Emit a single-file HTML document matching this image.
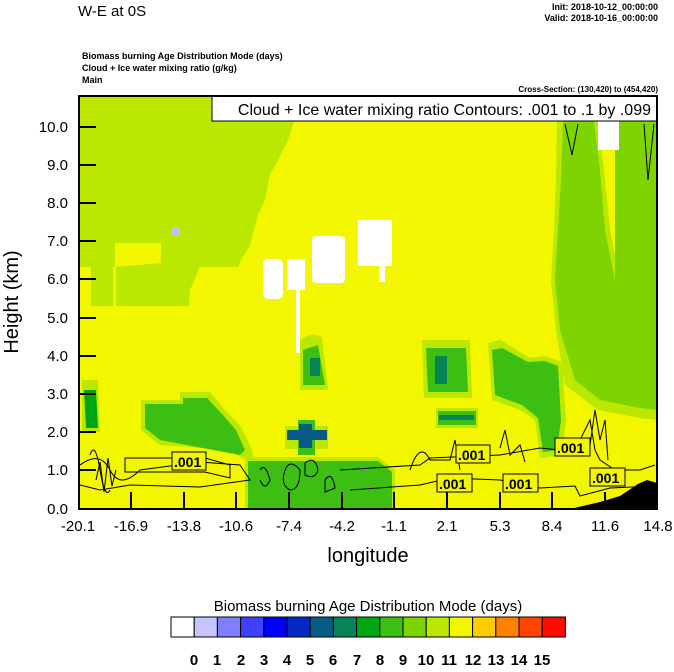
<!DOCTYPE html>
<html><head><style>
body{margin:0;background:#fff;}
svg text{font-family:"Liberation Sans",sans-serif;}
</style></head><body>
<svg width="674" height="667" viewBox="0 0 674 667" xmlns="http://www.w3.org/2000/svg">
<rect width="674" height="667" fill="#fff"/>
<text x="78" y="16" font-size="15">W-E at 0S</text>
<text x="658" y="10" font-size="9" font-weight="bold" text-anchor="end">Init: 2018-10-12_00:00:00</text>
<text x="658" y="21" font-size="9" font-weight="bold" text-anchor="end">Valid: 2018-10-16_00:00:00</text>
<text x="82" y="59" font-size="9" font-weight="bold">Biomass burning Age Distribution Mode   (days)</text>
<text x="82" y="71" font-size="9" font-weight="bold">Cloud + Ice water mixing ratio   (g/kg)</text>
<text x="82" y="83" font-size="9" font-weight="bold">Main</text>
<text x="658" y="92" font-size="8" font-weight="bold" text-anchor="end">Cross-Section: (130,420) to (454,420)</text>

<rect x="79" y="96" width="578" height="413" fill="#F2F700"/>
<polygon fill="#BBE800" points="79,96 294,96 294,121 288,140 278,160 270,175 265,200 258,215 250,245 240,262 238,267 200,267 190,290 189,306 79,306"/>
<polygon fill="#F2F700" points="115,243 161,243 161,263 115,267"/>
<polygon fill="#F2F700" points="79,267 91,267 91,306 79,306"/>
<polygon fill="#F2F700" points="113,267 116,267 116,306 113,306"/>
<polygon fill="#BBE800" points="557,121 598,121 604,170 610,230 620,280 640,300 657,305 657,420 640,418 598,410 565,385 556,330 551,280 554,230 556,180"/>
<polygon fill="#7DD400" points="563,121 594,121 600,170 605,230 615,280 630,300 657,310 657,410 640,408 600,400 575,380 560,330 555,280 558,230 561,180"/>
<rect x="615" y="121" width="42" height="200" fill="#7DD400"/>
<rect x="598" y="121" width="21" height="29" fill="#fff"/>
<rect x="263" y="259" width="20" height="40" rx="5" fill="#fff"/>
<path d="M287 259 H305 V290 H300 V353 H296 V290 H287 Z" fill="#fff"/>
<rect x="312" y="236" width="33" height="47" rx="4" fill="#fff"/>
<path d="M358 220 H392 V266 H385 V282 H379 V266 H358 Z" fill="#fff"/>
<rect x="172" y="228" width="8" height="7" fill="#C4C4FF"/>
<path d="M300 340 Q315 330 322 338 L328 390 L300 390 Z" fill="#BBE800"/>
<path d="M303 350 L318 345 L325 385 L303 385 Z" fill="#3CBE12"/>
<rect x="310" y="358" width="10" height="18" fill="#078455"/>
<path d="M141 400 L180 400 L180 392 L210 392 L225 410 L240 425 L250 445 L255 460 L245 460 L230 450 L160 445 L141 430 Z" fill="#BBE800"/>
<path d="M145 404 L183 404 L183 398 L207 398 L222 414 L236 430 L245 450 L240 455 L160 440 L145 428 Z" fill="#3CBE12"/>
<polygon fill="#BBE800" points="245,457 378,457 395,470 395,509 245,509"/>
<polygon fill="#3CBE12" points="248,461 378,461 392,472 392,509 248,509"/>
<path d="M82 380 L98 380 L100 432 L82 432 Z" fill="#BBE800"/>
<path d="M84 390 L96 390 L98 428 L86 428 Z" fill="#00A614"/>
<path d="M285 426 L328 426 L328 449 L285 449 Z" fill="#BBE800"/>
<path d="M298 420 L315 420 L315 455 L298 455 Z" fill="#3CBE12"/>
<rect x="287" y="430" width="40" height="10" fill="#075B84"/>
<rect x="299" y="424" width="13" height="24" fill="#075B84"/>
<path d="M422 340 L470 340 L472 398 L424 398 Z" fill="#BBE800"/>
<path d="M426 348 L466 348 L468 392 L428 392 Z" fill="#3CBE12"/>
<rect x="435" y="356" width="12" height="28" fill="#078455"/>
<rect x="436" y="408" width="42" height="20" fill="#BBE800"/>
<rect x="438" y="411" width="38" height="14" fill="#3CBE12"/>
<rect x="439" y="415" width="35" height="5" fill="#078455"/>
<path d="M488 343 L500 340 L530 358 L545 356 L562 362 L566 420 L562 455 L540 458 L535 420 L520 410 L492 400 Z" fill="#BBE800"/>
<path d="M492 350 L502 348 L528 362 L545 361 L558 366 L561 420 L557 450 L543 452 L538 418 L522 405 L495 395 Z" fill="#3CBE12"/>
<polygon fill="#000" points="570,509 600,502 620,496 638,484 647,480 657,483 657,509"/>
<g fill="none" stroke="#000" stroke-width="1">
<path d="M80 465 Q100 450 110 470 T140 470 L200 462 L240 465 L250 480 L200 487 L130 485 L100 490 L80 485"/>
<path d="M90 455 Q95 440 100 470 T110 490"/>
<path d="M96 480 L100 462 L104 492 L108 458 L112 486 L116 470"/>
<path d="M125 458 L205 458 L230 465 L230 478 L205 472 L125 472 Z"/>
<path d="M260 470 Q265 462 270 480 Q265 492 260 480"/>
<path d="M285 470 Q290 458 300 470 Q300 490 290 490 Q280 485 285 470"/>
<path d="M305 463 Q315 455 318 470 Q315 480 305 475 Z"/>
<path d="M325 480 Q332 470 335 488 L325 492 Z"/>
<path d="M340 470 L420 465 L430 458 L500 455 L540 448 L560 450 L580 440 L590 420 L595 450 L600 460 L615 470 L640 470 L655 465"/>
<path d="M350 490 L420 485 L450 478 L500 480 L540 488 L575 486 L580 496 L610 488 L655 486"/>
<path d="M410 470 Q420 440 430 460 L450 460 L455 440 L460 470"/>
<path d="M500 448 L505 430 L510 455 L520 445 L525 462"/>
<path d="M590 445 L595 410 L600 440 L605 420 L608 460"/>
<path d="M565 124 L572 155 L578 124"/>
<path d="M644 124 L648 180 L654 124"/>
</g>
<g font-size="14" font-weight="bold">
<rect x="172" y="452" width="34" height="18" fill="#F2F700" stroke="#000"/><text x="174" y="467">.001</text>
<rect x="456" y="445" width="34" height="18" fill="#F2F700" stroke="#000"/><text x="458" y="460">.001</text>
<rect x="437" y="474" width="35" height="18" fill="#F2F700" stroke="#000"/><text x="439" y="489">.001</text>
<rect x="503" y="474" width="35" height="18" fill="#F2F700" stroke="#000"/><text x="505" y="489">.001</text>
<rect x="555" y="438" width="35" height="18" fill="#F2F700" stroke="#000"/><text x="557" y="453">.001</text>
<rect x="590" y="468" width="35" height="18" fill="#F2F700" stroke="#000"/><text x="592" y="483">.001</text>
</g>
<rect x="212" y="96" width="445" height="25" fill="#fff" stroke="#000"/>
<text x="651" y="115" font-size="16" text-anchor="end">Cloud + Ice water mixing ratio Contours: .001 to .1 by .099</text>
<rect x="79" y="96" width="578" height="413" fill="none" stroke="#000" stroke-width="2"/>
<g stroke="#000" stroke-width="2">
<line x1="79" y1="127" x2="96" y2="127"/><line x1="79" y1="165" x2="96" y2="165"/><line x1="79" y1="203" x2="96" y2="203"/><line x1="79" y1="241" x2="96" y2="241"/><line x1="79" y1="279" x2="96" y2="279"/><line x1="79" y1="318" x2="96" y2="318"/><line x1="79" y1="356" x2="96" y2="356"/><line x1="79" y1="394" x2="96" y2="394"/><line x1="79" y1="432" x2="96" y2="432"/><line x1="79" y1="470" x2="96" y2="470"/>
<line x1="131" y1="509" x2="131" y2="492"/><line x1="184" y1="509" x2="184" y2="492"/><line x1="236" y1="509" x2="236" y2="492"/><line x1="289" y1="509" x2="289" y2="492"/><line x1="342" y1="509" x2="342" y2="492"/><line x1="394" y1="509" x2="394" y2="492"/><line x1="447" y1="509" x2="447" y2="492"/><line x1="500" y1="509" x2="500" y2="492"/><line x1="552" y1="509" x2="552" y2="492"/><line x1="605" y1="509" x2="605" y2="492"/>
</g>
<g font-size="15" text-anchor="end">
<text x="68" y="132">10.0</text><text x="68" y="170">9.0</text><text x="68" y="208">8.0</text><text x="68" y="246">7.0</text><text x="68" y="284">6.0</text><text x="68" y="323">5.0</text><text x="68" y="361">4.0</text><text x="68" y="399">3.0</text><text x="68" y="437">2.0</text><text x="68" y="475">1.0</text><text x="68" y="514">0.0</text>
</g>
<g font-size="15" text-anchor="middle">
<text x="78" y="531">-20.1</text><text x="131" y="531">-16.9</text><text x="184" y="531">-13.8</text><text x="236" y="531">-10.6</text><text x="289" y="531">-7.4</text><text x="342" y="531">-4.2</text><text x="394" y="531">-1.1</text><text x="447" y="531">2.1</text><text x="500" y="531">5.3</text><text x="552" y="531">8.4</text><text x="605" y="531">11.6</text><text x="658" y="531">14.8</text>
</g>
<text x="368" y="562" font-size="20" text-anchor="middle">longitude</text>
<text transform="translate(18,302) rotate(-90)" font-size="20" text-anchor="middle">Height (km)</text>
<text x="368" y="611" font-size="15" text-anchor="middle">Biomass burning Age Distribution Mode  (days)</text>
<g stroke="#000" stroke-width="1">
<rect x="171" y="617" width="23.2" height="20" fill="#fff"/>
<rect x="194.2" y="617" width="23.2" height="20" fill="#C4C4FF"/>
<rect x="217.4" y="617" width="23.2" height="20" fill="#8080FF"/>
<rect x="240.6" y="617" width="23.2" height="20" fill="#4040FF"/>
<rect x="263.8" y="617" width="23.2" height="20" fill="#0000FF"/>
<rect x="287" y="617" width="23.2" height="20" fill="#0529C4"/>
<rect x="310.2" y="617" width="23.2" height="20" fill="#075B84"/>
<rect x="333.4" y="617" width="23.2" height="20" fill="#078455"/>
<rect x="356.6" y="617" width="23.2" height="20" fill="#00A614"/>
<rect x="379.8" y="617" width="23.2" height="20" fill="#3CBE12"/>
<rect x="403" y="617" width="23.2" height="20" fill="#7DD400"/>
<rect x="426.2" y="617" width="23.2" height="20" fill="#BBE800"/>
<rect x="449.4" y="617" width="23.2" height="20" fill="#F2F700"/>
<rect x="472.6" y="617" width="23.2" height="20" fill="#FFCC00"/>
<rect x="495.8" y="617" width="23.2" height="20" fill="#FF8000"/>
<rect x="519" y="617" width="23.2" height="20" fill="#FF4500"/>
<rect x="542.2" y="617" width="23.2" height="20" fill="#FF0A00"/>
</g>
<g font-size="15" font-weight="bold" text-anchor="middle">
<text x="194" y="665">0</text><text x="217" y="665">1</text><text x="241" y="665">2</text><text x="264" y="665">3</text><text x="287" y="665">4</text><text x="310" y="665">5</text><text x="333" y="665">6</text><text x="357" y="665">7</text><text x="380" y="665">8</text><text x="403" y="665">9</text><text x="426" y="665">10</text><text x="449" y="665">11</text><text x="473" y="665">12</text><text x="496" y="665">13</text><text x="519" y="665">14</text><text x="542" y="665">15</text>
</g>
</svg>
</body></html>
